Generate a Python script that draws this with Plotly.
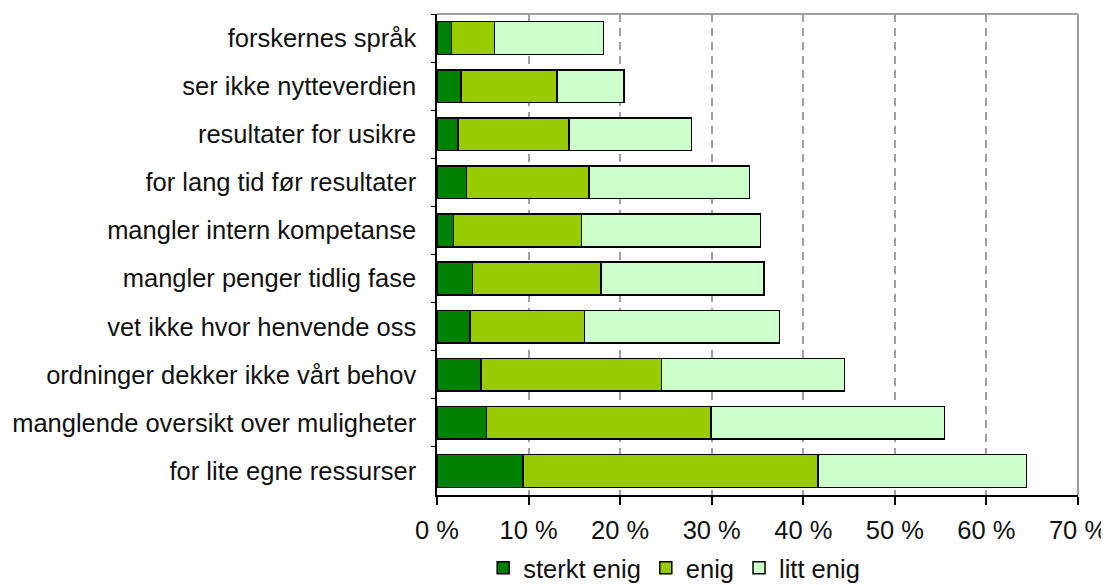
import plotly.graph_objects as go

# categories listed top to bottom
categories = [
    "forskernes språk",
    "ser ikke nytteverdien",
    "resultater for usikre",
    "for lang tid før resultater",
    "mangler intern kompetanse",
    "mangler penger tidlig fase",
    "vet ikke hvor henvende oss",
    "ordninger dekker ikke vårt behov",
    "manglende oversikt over muligheter",
    "for lite egne ressurser",
]
sterkt_enig = [1.6, 2.6, 2.3, 3.2, 1.8, 3.9, 3.6, 4.8, 5.4, 9.4]
enig = [4.7, 10.5, 12.1, 13.4, 14.0, 14.0, 12.5, 19.7, 24.5, 32.2]
litt_enig = [11.9, 7.3, 13.4, 17.5, 19.5, 17.8, 21.3, 20.0, 25.5, 22.8]

x_ticks = [0, 10, 20, 30, 40, 50, 60, 70]
x_tick_labels = ["0 %", "10 %", "20 %", "30 %", "40 %", "50 %", "60 %", "70 %"]

series = [
    ("sterkt enig", sterkt_enig, "#008000"),
    ("enig", enig, "#99CC00"),
    ("litt enig", litt_enig, "#CCFFCC"),
]

fig = go.Figure()
for name, vals, color in series:
    fig.add_trace(go.Bar(
        y=categories,
        x=vals,
        name=name,
        orientation="h",
        width=0.68,
        marker=dict(color=color, line=dict(color="#000000", width=1.5)),
    ))

font_family = "Liberation Sans, Arial, sans-serif"

# page body has an 8px margin, so the figure is sized/offset to compensate
fig.update_layout(
    barmode="stack",
    width=1101,
    height=577,
    margin=dict(l=429, r=31, t=6, b=90, autoexpand=False),
    paper_bgcolor="white",
    plot_bgcolor="white",
    font=dict(family=font_family, size=25.5, color="#111111"),
    showlegend=True,
    legend=dict(
        orientation="h",
        x=0.37, xanchor="center",
        y=-0.152, yanchor="middle",
        font=dict(size=25.5),
        itemwidth=30,
        traceorder="normal",
        tracegroupgap=0,
    ),
    xaxis=dict(
        range=[0, 70],
        tickvals=x_ticks,
        ticktext=x_tick_labels,
        showgrid=True,
        gridcolor="#A0A0A0",
        griddash="8px,6px",
        gridwidth=1.5,
        showline=True,
        linecolor="#000000",
        linewidth=1.5,
        ticks="outside",
        ticklen=8,
        tickwidth=1.5,
        tickcolor="#000000",
        ticklabelstandoff=4,
        zeroline=False,
        automargin=False,
        fixedrange=True,
    ),
    yaxis=dict(
        autorange="reversed",
        showline=True,
        linecolor="#000000",
        linewidth=1.5,
        ticks="outside",
        tickson="boundaries",
        ticklen=4,
        tickcolor="#000000",
        ticklabelstandoff=14,
        showgrid=False,
        automargin=False,
        fixedrange=True,
    ),
)

# gray frame on top and right of the plot area
fig.add_shape(type="line", xref="paper", yref="paper", x0=0, x1=1, y0=1, y1=1,
              line=dict(color="#A0A0A0", width=2))
fig.add_shape(type="line", xref="paper", yref="paper", x0=1, x1=1, y0=0, y1=1,
              line=dict(color="#A0A0A0", width=2))

fig.write_html("out.html")
